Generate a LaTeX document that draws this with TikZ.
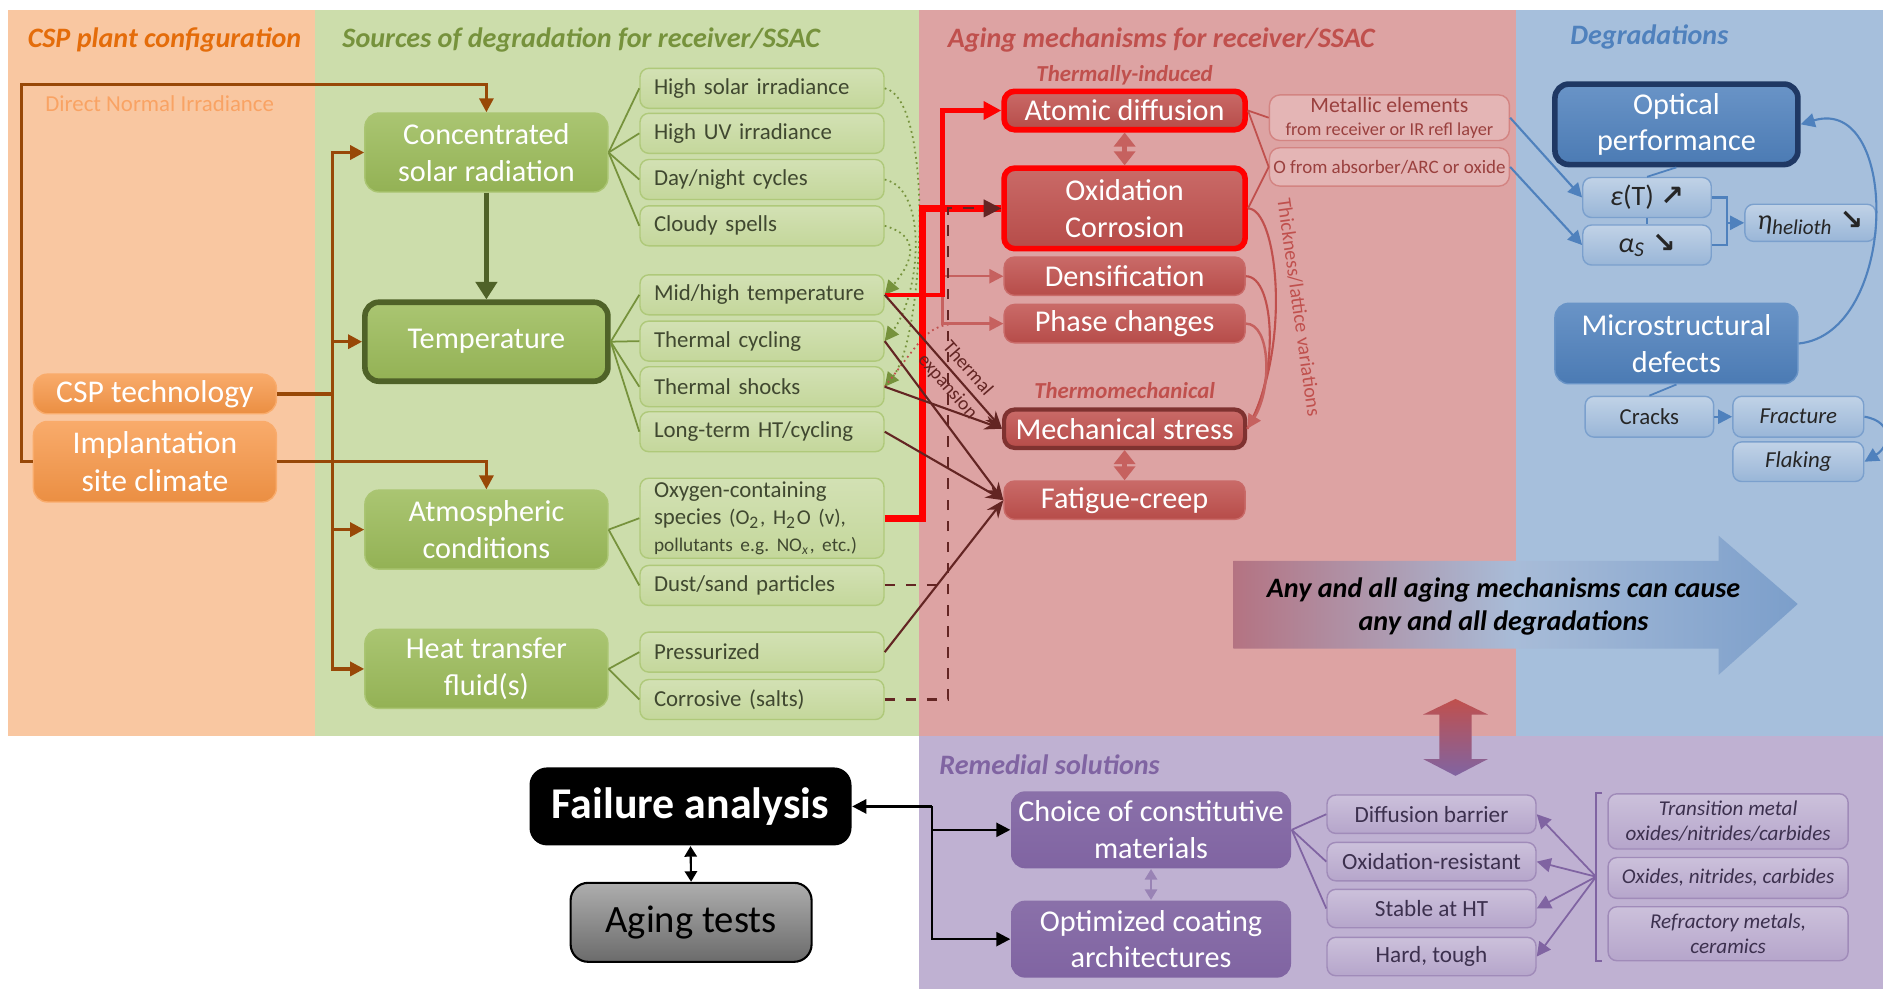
\documentclass[tikz,border=0pt]{standalone}
\usepackage{fontspec}
\setmainfont{Carlito}
\newfontfamily\arrowglyphs{DejaVu Sans}
\usetikzlibrary{arrows.meta, positioning}
\frenchspacing

\definecolor{cspbg}{RGB}{249,199,161}
\definecolor{srcbg}{RGB}{204,221,171}
\definecolor{agebg}{RGB}{221,163,163}
\definecolor{degbg}{RGB}{166,191,220}
\definecolor{rembg}{RGB}{191,177,210}
\definecolor{csphead}{RGB}{228,108,10}
\definecolor{cspor}{RGB}{247,150,70}
\definecolor{cspbrown}{RGB}{152,72,7}
\definecolor{dnitext}{RGB}{249,163,100}
\definecolor{srcgreen}{RGB}{155,187,89}
\definecolor{srchead}{RGB}{118,146,60}
\definecolor{srcdark}{RGB}{79,98,40}
\definecolor{leaffill}{RGB}{196,215,155}
\definecolor{leaftext}{RGB}{64,72,48}
\definecolor{agered}{RGB}{192,80,77}
\definecolor{agedark}{RGB}{99,37,35}
\definecolor{degblue}{RGB}{79,129,189}
\definecolor{degdark}{RGB}{31,56,100}
\definecolor{rempurple}{RGB}{128,100,162}
\definecolor{remtext}{RGB}{60,48,78}
\definecolor{causemauve}{RGB}{180,115,130}
\definecolor{causemid}{RGB}{168,188,216}

\pgfdeclarehorizontalshading{causeshade}{100bp}{color(0bp)=(agered); color(25bp)=(causemauve); color(50bp)=(causemid); color(100bp)=(degblue)}

\begin{document}
\begin{tikzpicture}[
    header/.style={font=\fontsize{8}{9.6}\selectfont\bfseries\itshape},
    sublabel/.style={font=\fontsize{6.5}{8}\selectfont\bfseries\itshape, text=agered},
    cspbox/.style={rounded corners=4pt, draw=cspor!80!white, top color=cspor!80!white, bottom color=cspor!95!black, text=white, minimum width=2.43cm, inner sep=0pt, align=center, font=\fontsize{9}{11}\selectfont},
    srcbox/.style={rounded corners=4pt, draw=srcgreen!85!white, top color=srcgreen!85!white, bottom color=srcgreen!95!black, text=white, minimum width=2.43cm, minimum height=0.79cm, inner sep=0pt, align=center, font=\fontsize{8.6}{10.4}\selectfont},
    leafbox/.style={rounded corners=2.5pt, draw=srcgreen!80!white, top color=leaffill!75!white, bottom color=leaffill, text=leaftext, text width=2.16cm, inner xsep=0.14cm, inner ysep=0pt, minimum height=0.4cm, align=left, font=\fontsize{6.5}{7.5}\selectfont},
    agebox/.style={rounded corners=3pt, draw=agered!85!white, top color=agered!85!white, bottom color=agered!95!black, text=white, minimum width=2.41cm, minimum height=0.384cm, inner sep=0pt, align=center, font=\fontsize{8.6}{10.4}\selectfont},
    agenote/.style={rounded corners=3pt, draw=agered!70!white, fill=agebg!80!white, text=agered!80!black, minimum width=2.40cm, inner sep=0pt, align=center},
    degbox/.style={rounded corners=4pt, draw=degblue!85!white, top color=degblue!85!white, bottom color=degblue!95!black, text=white, minimum width=2.43cm, minimum height=0.805cm, inner sep=0pt, align=center, font=\fontsize{8.6}{10.4}\selectfont},
    degnote/.style={rounded corners=2.5pt, draw=degblue!75!white, top color=degbg!70!white, bottom color=degbg!85!degblue, text=black!85, minimum height=0.4cm, inner sep=0pt, font=\fontsize{6.5}{7.5}\selectfont},
    rembox/.style={rounded corners=4pt, top color=rempurple!92!white, bottom color=rempurple, text=white, minimum width=2.8cm, minimum height=0.77cm, inner sep=0pt, align=center, font=\fontsize{8.6}{10.4}\selectfont},
    remnote/.style={rounded corners=2.5pt, draw=rempurple!75!white, top color=rembg!80!white, bottom color=rembg!85!rempurple, text=remtext, minimum width=2.09cm, minimum height=0.384cm, inner sep=0pt, font=\fontsize{6.6}{7.6}\selectfont},
    remitem/.style={remnote, minimum width=2.40cm, align=center, font=\fontsize{6}{7}\selectfont\itshape},
    cspline/.style={draw=cspbrown, line width=0.9pt},
    cspto/.style={cspline, -{Triangle[length=4pt,width=4pt]}},
    leafline/.style={draw=srchead, line width=0.5pt},
    hint/.style={draw=srchead, densely dotted, line width=0.5pt, -{Triangle[length=4pt,width=4pt]}},
    fire/.style={draw=red, line width=1.3pt},
    fireto/.style={fire, -{Triangle[length=5pt,width=5pt]}},
    weak/.style={draw=agered!90!white, line width=0.7pt, -{Triangle[length=4pt,width=4pt]}},
    cause/.style={draw=agedark, line width=0.6pt, -{Stealth[length=5pt,width=4pt]}},
    bothway/.style={draw=agered!90!white, line width=1.6pt, {Triangle[length=4pt,width=6pt]}-{Triangle[length=4pt,width=6pt]}},
    degline/.style={draw=degblue, line width=0.6pt},
    degto/.style={degline, -{Triangle[length=4pt,width=4pt]}},
    remline/.style={draw=rempurple, line width=0.5pt},
    remto/.style={remline, -{Triangle[length=4pt,width=4pt]}},
    blackto/.style={draw=black, line width=0.7pt, -{Triangle[length=4pt,width=4pt]}}
]
\useasboundingbox (0,0) rectangle (18.83,-9.89);

\fill[cspbg] (0.084,-0.096) rectangle (3.15,-7.36);
\fill[srcbg] (3.15,-0.096) rectangle (9.19,-7.36);
\fill[agebg] (9.19,-0.096) rectangle (15.16,-7.36);
\fill[degbg] (15.16,-0.096) rectangle (18.83,-7.36);
\fill[rembg] (9.19,-7.36) rectangle (18.83,-9.89);

\node[header, text=csphead] (hcsp) at (1.645,-0.396) {CSP plant configuration};
\node[header, text=srchead] (hsrc) at (5.812,-0.396) {Sources of degradation for receiver/SSAC};
\node[header, text=agered] (hage) at (11.613,-0.396) {Aging mechanisms for receiver/SSAC};
\node[header, text=degblue] (hdeg) at (16.494,-0.372) {Degradations};
\node[header, text=rempurple] (hrem) at (10.496,-7.65) {Remedial solutions};

\node[text=dnitext, font=\fontsize{6.5}{8}\selectfont] (dni) at (1.597,-1.033) {Direct Normal Irradiance};
\node[cspbox, minimum height=0.396cm] (csp) at (1.549,-3.939) {CSP technology};
\node[cspbox, minimum height=0.805cm] (isc) at (1.549,-4.617) {Implantation\\site climate};

\node[srcbox] (csr) at (4.864,-1.525) {Concentrated\\solar radiation};
\node[srcbox, draw=srcdark, line width=1.6pt] (temp) at (4.864,-3.417) {Temperature};
\node[srcbox] (atm) at (4.864,-5.296) {Atmospheric\\conditions};
\node[srcbox] (htf) at (4.864,-6.689) {Heat transfer\\fluid(s)};

\node[leafbox] (hsi) at (7.62,-0.883) {High solar irradiance};
\node[leafbox] (huv) at (7.62,-1.333) {High UV irradiance};
\node[leafbox] (dnc) at (7.62,-1.795) {Day/night cycles};
\node[leafbox] (cld) at (7.62,-2.258) {Cloudy spells};
\node[leafbox] (mht) at (7.62,-2.948) {Mid/high temperature};
\node[leafbox] (tcy) at (7.62,-3.411) {Thermal cycling};
\node[leafbox] (tsh) at (7.62,-3.867) {Thermal shocks};
\node[leafbox] (lht) at (7.62,-4.317) {Long-term HT/cycling};
\node[leafbox, minimum height=0.8cm, font=\fontsize{6.5}{7.6}\selectfont] (oxy) at (7.62,-5.182) {Oxygen-containing\\species {\fontsize{6}{7}\selectfont(O\textsubscript{2}, H\textsubscript{2}O (v),}\\{\fontsize{5.5}{6.6}\selectfont pollutants e.g. NO\textsubscript{\textit{x}}, etc.)}};
\node[leafbox] (dust) at (7.62,-5.854) {Dust/sand particles};
\node[leafbox] (pres) at (7.62,-6.521) {Pressurized};
\node[leafbox] (cor) at (7.62,-6.995) {Corrosive (salts)};

\node[sublabel] (thind) at (11.246,-0.757) {Thermally-induced};
\node[agebox, draw=red, line width=1.6pt] (atd) at (11.246,-1.105) {Atomic diffusion};
\node[agebox, draw=red, line width=1.6pt, minimum height=0.805cm] (oxc) at (11.246,-2.084) {Oxidation\\Corrosion};
\node[agebox] (dens) at (11.246,-2.762) {Densification};
\node[agebox] (phc) at (11.246,-3.236) {Phase changes};
\node[sublabel] (thmech) at (11.246,-3.903) {Thermomechanical};
\node[agebox, draw=agedark!70!agered, line width=1.2pt] (mst) at (11.246,-4.287) {Mechanical stress};
\node[agebox] (fcr) at (11.246,-5.002) {Fatigue-creep};
\node[agenote, minimum height=0.456cm, font=\fontsize{6.2}{6.6}\selectfont] (met) at (13.894,-1.177) {Metallic elements\\{\fontsize{5.2}{6}\selectfont from receiver or IR refl layer}};
\node[agenote, minimum height=0.384cm, font=\fontsize{5.4}{6.4}\selectfont] (ofr) at (13.894,-1.669) {O from absorber/ARC or oxide};
\node[text=agered, font=\fontsize{5.7}{7}\selectfont, rotate=-82] (thick) at (12.99,-3.07) {Thickness/lattice variations};

\node[degbox, draw=degdark, line width=1.6pt] (opt) at (16.764,-1.243) {Optical\\performance};
\node[degnote, minimum width=1.285cm, font=\fontsize{8}{9}\selectfont] (eps) at (16.47,-1.975) {\textit{ε}(T) {\arrowglyphs\bfseries ↗}};
\node[degnote, minimum width=1.285cm, font=\fontsize{8}{9}\selectfont] (alp) at (16.47,-2.45) {\textit{α\textsubscript{S}} {\arrowglyphs\bfseries ↘}};
\node[degnote, minimum width=1.309cm, minimum height=0.372cm, font=\fontsize{8}{9}\selectfont] (eta) at (18.103,-2.228) {\textit{η\textsubscript{helioth}} {\arrowglyphs\bfseries ↘}};
\node[degbox] (mic) at (16.764,-3.435) {Microstructural\\defects};
\node[degnote, minimum width=1.285cm, minimum height=0.408cm] (crk) at (16.494,-4.167) {Cracks};
\node[degnote, minimum width=1.309cm, minimum height=0.408cm, font=\fontsize{6.5}{7.5}\selectfont\itshape] (frc) at (17.983,-4.167) {Fracture};
\node[degnote, minimum width=1.309cm, minimum height=0.396cm, font=\fontsize{6.5}{7.5}\selectfont\itshape] (flk) at (17.983,-4.617) {Flaking};

\shade[shading=causeshade] (12.333,-5.608) -- (17.185,-5.608) -- (17.185,-5.356) -- (17.977,-6.04) -- (17.185,-6.749) -- (17.185,-6.485) -- (12.333,-6.485) -- cycle;
\node[font=\fontsize{8}{9.6}\selectfont\bfseries\itshape, align=center] (anyall) at (15.035,-6.065) {Any and all aging mechanisms can cause\\any and all degradations};
\shade[top color=agered, bottom color=rempurple] (14.393,-7.145) -- (14.231,-7.145) -- (14.555,-6.989) -- (14.879,-7.145) -- (14.717,-7.145) -- (14.717,-7.59) -- (14.879,-7.59) -- (14.555,-7.758) -- (14.231,-7.59) -- (14.393,-7.59) -- cycle;

\node[rounded corners=5pt, fill=black, text=white, font=\fontsize{12.5}{14}\selectfont\bfseries, minimum width=3.22cm, minimum height=0.78cm, inner sep=0pt] (fail) at (6.905,-8.064) {Failure analysis};
\node[rounded corners=5pt, draw=black, line width=0.6pt, top color=black!32, bottom color=black!58, font=\fontsize{11}{13}\selectfont, minimum width=2.41cm, minimum height=0.79cm, inner sep=0pt] (agt) at (6.911,-9.223) {Aging tests};
\node[rembox] (choice) at (11.51,-8.298) {Choice of constitutive\\materials};
\node[rembox] (optc) at (11.51,-9.391) {Optimized coating\\architectures};
\node[remnote] (dfb) at (14.315,-8.142) {Diffusion barrier};
\node[remnote] (oxr) at (14.315,-8.616) {Oxidation-resistant};
\node[remnote] (sht) at (14.315,-9.085) {Stable at HT};
\node[remnote] (hdt) at (14.315,-9.565) {Hard, tough};
\node[remitem, minimum height=0.552cm] (trm) at (17.281,-8.214) {Transition metal\\oxides/nitrides/carbides};
\node[remitem, minimum height=0.408cm] (oxn) at (17.281,-8.779) {Oxides, nitrides, carbides};
\node[remitem, minimum height=0.54cm] (rfm) at (17.281,-9.337) {Refractory metals,\\ceramics};

\coordinate (cspbus) at (3.326,-3.939);
\coordinate (dnicorner) at (0.216,-0.841);
\draw[cspline] (csp.east) -- (cspbus);
\foreach \g in {csr,temp,atm,htf}
    \draw[cspto] (cspbus) |- (\g.west);
\draw[cspto] (isc.west) -| (dnicorner) -| (csr.north);
\draw[cspto] (isc.east) -| (atm.north);

\draw[draw=srcdark, line width=1.3pt, -{Triangle[length=5pt,width=6pt]}] (csr.south) -- (temp.north);
\foreach \l in {hsi,huv,dnc,cld}
    \draw[leafline] (csr.east) -- (\l.west);
\foreach \l in {mht,tcy,tsh,lht}
    \draw[leafline] (temp.east) -- (\l.west);
\foreach \l in {oxy,dust}
    \draw[leafline] (atm.east) -- (\l.west);
\foreach \l in {pres,cor}
    \draw[leafline] (htf.east) -- (\l.west);
\draw[hint] (hsi.east) .. controls +(0.5,-0.1) and +(0.4,0.5) .. (tsh.east);
\draw[hint] (dnc.east) .. controls +(0.45,-0.1) and +(0.35,0.45) .. (tcy.east);
\draw[hint] (cld.east) .. controls +(0.35,-0.1) and +(0.3,0.35) .. (mht.east);
\draw[draw=agered, densely dotted, line width=0.5pt] (tsh.east) .. controls +(0.55,0.7) and +(-0.8,0) .. (phc.west);

\coordinate (mhtbus) at (9.427,-2.948);
\coordinate (oxybus) at (9.223,-5.182);
\coordinate (dashbus) at (9.483,-2.084);
\draw[weak] (mhtbus) |- (phc.west);
\draw[weak] (mhtbus |- dens.west) -- (dens.west);
\draw[fireto] (mht.east) -- (mhtbus) |- (atd.west);
\draw[fire, line width=2pt] (oxy.east) -- (oxybus) |- (oxc.west);
\draw[draw=agedark, dashed, line width=0.6pt] (dust.east) -- (dust.east -| dashbus);
\draw[draw=agedark, dashed, line width=0.6pt, -{Triangle[length=5pt,width=5pt]}] (cor.east) -| (dashbus) -- (oxc.west);
\draw[cause] (mht.east) -- (mst.west) node[pos=0.62, sloped, align=center, font=\fontsize{5.5}{7.6}\selectfont, text=agedark] (thexp) {Thermal\\expansion};
\draw[cause] (tsh.east) -- (mst.west);
\draw[cause] (tcy.east) -- (fcr.west);
\draw[cause] (lht.east) -- (fcr.west);
\draw[cause] (pres.east) -- (fcr.west);

\draw[bothway] (atd.south) -- (oxc.north);
\draw[bothway] (mst.south) -- (fcr.north);
\draw[draw=agered, line width=0.5pt] (atd.east) -- (met.west);
\draw[draw=agered, line width=0.5pt] (atd.east) -- (ofr.west);
\draw[draw=agered, line width=0.5pt] (oxc.east) -- (ofr.west);
\draw[draw=agered, line width=0.6pt] (oxc.east) .. controls +(0.3,0) and +(0.45,0.8) .. (mst.east);
\draw[draw=agered, line width=0.6pt] (dens.east) .. controls +(0.3,0) and +(0.32,0.5) .. (mst.east);
\draw[weak] (phc.east) .. controls +(0.25,0) and +(0.25,0.4) .. (mst.east);

\draw[degto] (met.east) -- (eps.west);
\draw[degto] (ofr.east) -- (alp.west);
\draw[degline, line width=0.5pt] (opt.south) -- (eps.north);
\draw[degline, line width=0.5pt] (eps.south) -- (alp.north);
\coordinate (etabus) at (17.269,-2.228);
\draw[degline] (eps.east) -| (etabus);
\draw[degline] (alp.east) -| (etabus);
\draw[degto] (etabus) -- (eta.west);
\draw[degto] (mic.east) .. controls +(1.0,0.1) and +(1.0,0.3) .. (opt.east);
\draw[degline, line width=0.5pt] (mic.south) -- (crk.north);
\draw[degto] (crk.east) -- (frc.west);
\draw[degto] (frc.east) .. controls +(0.3,-0.05) and +(0.25,0.15) .. (flk.east);

\coordinate (failbus) at (9.319,-8.064);
\draw[blackto] (failbus) -- (fail.east);
\draw[blackto] (failbus) |- (choice.west);
\draw[blackto] (failbus) |- (optc.west);
\draw[draw=black, line width=0.6pt, {Triangle[length=3pt,width=3.5pt]}-{Triangle[length=3pt,width=3.5pt]}] (fail.south) -- (agt.north);
\draw[draw=rempurple!80!white, line width=0.6pt, {Triangle[length=3pt,width=3.5pt]}-{Triangle[length=3pt,width=3.5pt]}] (choice.south) -- (optc.north);
\foreach \r in {dfb,oxr,sht}
    \draw[remline] (choice.east) -- (\r.west);
\draw[remline] (16.02,-7.926) -- (15.96,-7.926) -- (15.96,-9.607) -- (16.02,-9.607);
\coordinate (brk) at (15.96,-8.767);
\foreach \r in {dfb,oxr,sht,hdt}
    \draw[remto] (brk) -- (\r.east);
\end{tikzpicture}
\end{document}
